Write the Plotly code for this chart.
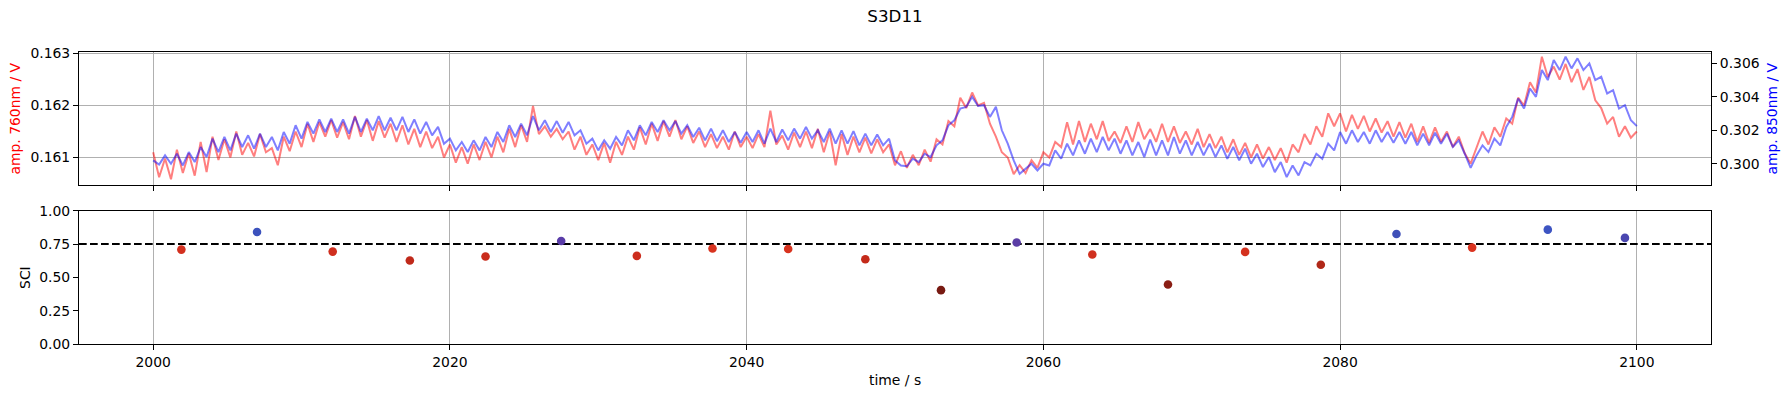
import numpy as np
import plotly.graph_objects as go

# ---------------- data ----------------
time_step = 0.4
time = np.round(np.arange(2000.0, 2100.0 + 1e-9, time_step), 1)

amp_760 = [
    0.16110, 0.16062, 0.16098, 0.16058, 0.16115, 0.16070, 0.16108, 0.16065, 0.16130, 0.16072,
    0.16140, 0.16095, 0.16135, 0.16100, 0.16150, 0.16105, 0.16128, 0.16102, 0.16145, 0.16110,
    0.16118, 0.16085, 0.16140, 0.16112, 0.16150, 0.16120, 0.16165, 0.16130, 0.16168, 0.16140,
    0.16172, 0.16138, 0.16168, 0.16135, 0.16180, 0.16140, 0.16172, 0.16132, 0.16170, 0.16138,
    0.16165, 0.16130, 0.16162, 0.16125, 0.16155, 0.16120, 0.16150, 0.16118, 0.16140, 0.16100,
    0.16125, 0.16090, 0.16120, 0.16088, 0.16125, 0.16095, 0.16130, 0.16100, 0.16140, 0.16110,
    0.16155, 0.16120, 0.16162, 0.16130, 0.16199, 0.16145, 0.16160, 0.16140, 0.16155, 0.16135,
    0.16150, 0.16115, 0.16140, 0.16105, 0.16125, 0.16095, 0.16128, 0.16090, 0.16130, 0.16105,
    0.16140, 0.16115, 0.16158, 0.16125, 0.16165, 0.16132, 0.16170, 0.16140, 0.16172, 0.16135,
    0.16160, 0.16128, 0.16150, 0.16120, 0.16145, 0.16118, 0.16140, 0.16115, 0.16150, 0.16120,
    0.16140, 0.16118, 0.16145, 0.16120, 0.16190, 0.16125, 0.16142, 0.16115, 0.16148, 0.16120,
    0.16150, 0.16118, 0.16155, 0.16110, 0.16150, 0.16085, 0.16145, 0.16105, 0.16140, 0.16110,
    0.16138, 0.16108, 0.16135, 0.16110, 0.16125, 0.16085, 0.16112, 0.16080, 0.16105, 0.16085,
    0.16115, 0.16092, 0.16135, 0.16125, 0.16170, 0.16160, 0.16215, 0.16195, 0.16225, 0.16200,
    0.16205, 0.16165, 0.16140, 0.16110, 0.16100, 0.16068, 0.16085, 0.16070, 0.16095, 0.16080,
    0.16110, 0.16100, 0.16130, 0.16120, 0.16168, 0.16125, 0.16170, 0.16130, 0.16165, 0.16135,
    0.16170, 0.16132, 0.16150, 0.16128, 0.16160, 0.16130, 0.16168, 0.16135, 0.16155, 0.16130,
    0.16165, 0.16130, 0.16160, 0.16128, 0.16150, 0.16125, 0.16155, 0.16120, 0.16145, 0.16118,
    0.16140, 0.16110, 0.16135, 0.16105, 0.16128, 0.16100, 0.16125, 0.16098, 0.16120, 0.16095,
    0.16118, 0.16090, 0.16125, 0.16110, 0.16145, 0.16125, 0.16160, 0.16140, 0.16185, 0.16160,
    0.16185, 0.16150, 0.16182, 0.16155, 0.16180, 0.16150, 0.16175, 0.16148, 0.16170, 0.16140,
    0.16168, 0.16138, 0.16165, 0.16130, 0.16160, 0.16128, 0.16158, 0.16130, 0.16150, 0.16120,
    0.16140, 0.16108, 0.16088, 0.16118, 0.16150, 0.16125, 0.16158, 0.16140, 0.16175, 0.16165,
    0.16215, 0.16200, 0.16245, 0.16225, 0.16294, 0.16255, 0.16275, 0.16250, 0.16280, 0.16245,
    0.16270, 0.16230, 0.16255, 0.16210, 0.16195, 0.16165, 0.16178, 0.16140, 0.16160, 0.16138,
    0.16150,
]

amp_850 = [
    0.30020, 0.29995, 0.30050, 0.30000, 0.30060, 0.29990, 0.30070, 0.30010, 0.30100, 0.30040,
    0.30150, 0.30070, 0.30160, 0.30080, 0.30180, 0.30100, 0.30170, 0.30090, 0.30180, 0.30100,
    0.30160, 0.30080, 0.30190, 0.30120, 0.30230, 0.30150, 0.30250, 0.30180, 0.30265, 0.30190,
    0.30270, 0.30190, 0.30265, 0.30180, 0.30280, 0.30190, 0.30270, 0.30200, 0.30285, 0.30200,
    0.30275, 0.30200, 0.30280, 0.30190, 0.30265, 0.30180, 0.30250, 0.30170, 0.30220, 0.30120,
    0.30150, 0.30080, 0.30130, 0.30070, 0.30140, 0.30080, 0.30160, 0.30100, 0.30190, 0.30130,
    0.30230, 0.30160, 0.30240, 0.30170, 0.30285, 0.30200, 0.30260, 0.30190, 0.30255, 0.30185,
    0.30250, 0.30170, 0.30200, 0.30120, 0.30150, 0.30080, 0.30140, 0.30090, 0.30160, 0.30110,
    0.30200, 0.30140, 0.30230, 0.30170, 0.30250, 0.30190, 0.30260, 0.30200, 0.30255, 0.30180,
    0.30230, 0.30160, 0.30215, 0.30140, 0.30210, 0.30135, 0.30200, 0.30130, 0.30190, 0.30125,
    0.30190, 0.30130, 0.30200, 0.30120, 0.30210, 0.30130, 0.30205, 0.30140, 0.30210, 0.30150,
    0.30220, 0.30150, 0.30200, 0.30130, 0.30210, 0.30120, 0.30200, 0.30120, 0.30195, 0.30110,
    0.30180, 0.30110, 0.30175, 0.30110, 0.30150, 0.30020, 0.29990, 0.29985, 0.30030, 0.30010,
    0.30060, 0.30040, 0.30110, 0.30140, 0.30230, 0.30260, 0.30330, 0.30340, 0.30400, 0.30345,
    0.30350, 0.30280, 0.30340, 0.30200, 0.30120, 0.30020, 0.29940, 0.29970, 0.30000, 0.29960,
    0.30000, 0.29990, 0.30080, 0.30030, 0.30120, 0.30050, 0.30140, 0.30060, 0.30150, 0.30070,
    0.30160, 0.30080, 0.30150, 0.30060, 0.30140, 0.30050, 0.30130, 0.30040, 0.30145, 0.30050,
    0.30140, 0.30050, 0.30160, 0.30060, 0.30140, 0.30050, 0.30130, 0.30050, 0.30120, 0.30040,
    0.30110, 0.30030, 0.30100, 0.30020, 0.30090, 0.30000, 0.30060, 0.29980, 0.30040, 0.29950,
    0.30010, 0.29920, 0.29990, 0.29930, 0.30010, 0.29990, 0.30060, 0.30030, 0.30120, 0.30080,
    0.30190, 0.30120, 0.30200, 0.30130, 0.30190, 0.30120, 0.30200, 0.30130, 0.30190, 0.30125,
    0.30190, 0.30120, 0.30190, 0.30110, 0.30180, 0.30110, 0.30185, 0.30120, 0.30180, 0.30100,
    0.30140, 0.30060, 0.29975, 0.30050, 0.30110, 0.30070, 0.30150, 0.30110, 0.30220, 0.30280,
    0.30390, 0.30330, 0.30450, 0.30400, 0.30560, 0.30500, 0.30620, 0.30560, 0.30640, 0.30570,
    0.30630, 0.30560, 0.30600, 0.30500, 0.30520, 0.30420, 0.30440, 0.30330, 0.30350, 0.30260,
    0.30225,
]

sci_time = [2001.9, 2007.0, 2012.1, 2017.3, 2022.4, 2027.5, 2032.6, 2037.7, 2042.8, 2048.0,
            2053.1, 2058.2, 2063.3, 2068.4, 2073.6, 2078.7, 2083.8, 2088.9, 2094.0, 2099.2]
sci_values = [0.708, 0.840, 0.693, 0.626, 0.656, 0.773, 0.661, 0.716, 0.713, 0.636,
              0.404, 0.761, 0.671, 0.446, 0.691, 0.594, 0.825, 0.723, 0.858, 0.796]
sci_colors = ["#d3301f", "#3c52bd", "#d02f1f", "#c0291a", "#c92c1c", "#5a3ca8", "#cc2d1d",
              "#d8331f", "#d8331f", "#c42a1a", "#781a12", "#5b3ea6", "#d0301f", "#8a1e14",
              "#d4321f", "#b02818", "#3f50b8", "#db3420", "#3d54c2", "#4a47b0"]
sci_threshold = 0.75

x_range = [1995, 2105]
x_ticks = [2000, 2020, 2040, 2060, 2080, 2100]
left_ticks = [0.161, 0.162, 0.163]
right_ticks = [0.300, 0.302, 0.304, 0.306]
sci_ticks = [0.0, 0.25, 0.5, 0.75, 1.0]

# ---------------- figure ----------------
FONT = "DejaVu Sans"
TICK_SIZE = 13.9
W, H = 1790, 397
ML, MR, MT, MB = 79, 79, 52, 53
plot_h = H - MT - MB
plot_w = W - ML - MR

def py(y_px):  # pixel (from top) -> paper y
    return (H - MB - y_px) / plot_h

def px(x_px):
    return (x_px - ML) / plot_w

fig = go.Figure()

fig.add_trace(go.Scatter(x=time, y=amp_760, mode="lines",
                         line=dict(color="rgba(255,0,0,0.5)", width=2),
                         xaxis="x", yaxis="y", showlegend=False))
fig.add_trace(go.Scatter(x=time, y=amp_850, mode="lines",
                         line=dict(color="rgba(0,0,255,0.5)", width=2),
                         xaxis="x", yaxis="y3", showlegend=False))
fig.add_trace(go.Scatter(x=sci_time, y=sci_values, mode="markers",
                         marker=dict(color=sci_colors, size=8.6, line=dict(width=0)),
                         xaxis="x2", yaxis="y2", showlegend=False))

fig.add_shape(type="line", xref="x2", x0=x_range[0], x1=x_range[1], yref="y2",
              y0=sci_threshold, y1=sci_threshold, layer="between",
              line=dict(color="black", width=2, dash="7.7px,3.3px"))

axis_common = dict(showline=True, linecolor="black", linewidth=1.1, mirror=True,
                   ticks="outside", ticklen=5, tickwidth=1.1, tickcolor="black",
                   gridcolor="#b0b0b0", gridwidth=1.1, zeroline=False,
                   tickfont=dict(family=FONT, size=TICK_SIZE, color="black"))

top_dom = [py(185), 1.0]
bot_dom = [0.0, py(210.7)]

fig.update_layout(
    width=W, height=H,
    margin=dict(l=ML, r=MR, t=MT, b=MB),
    paper_bgcolor="white", plot_bgcolor="white",
    font=dict(family=FONT, color="black"),
    title=dict(text="S3D11", x=0.5, xanchor="center", xref="paper",
               y=1 - 16 / H, yref="container", yanchor="middle",
               font=dict(family=FONT, size=16.7, color="black")),
    xaxis=dict(axis_common, range=x_range, tickvals=x_ticks, showticklabels=False,
               showgrid=True, anchor="y", domain=[0, 1]),
    yaxis=dict(axis_common, range=[0.16047, 0.16303], tickvals=left_ticks,
               tickformat=".3f", showgrid=True, domain=top_dom, anchor="x"),
    yaxis3=dict(axis_common, range=[0.29873, 0.30668], tickvals=right_ticks,
                tickformat=".3f", showgrid=False, overlaying="y", side="right",
                anchor="x", mirror=False),
    xaxis2=dict(axis_common, range=x_range, tickvals=x_ticks, tickformat="d",
                showgrid=True, anchor="y2", matches="x", domain=[0, 1]),
    yaxis2=dict(axis_common, range=[0, 1], tickvals=sci_ticks, tickformat=".2f",
                showgrid=False, domain=bot_dom, anchor="x2"),
)

label_font = dict(family=FONT, size=TICK_SIZE)
fig.add_annotation(text="amp. 760nm / V", xref="paper", yref="paper",
                   x=px(15), y=py(118.5), textangle=-90, showarrow=False,
                   font=dict(label_font, color="red"), xanchor="center", yanchor="middle")
fig.add_annotation(text="amp. 850nm / V", xref="paper", yref="paper",
                   x=px(1772), y=py(118.5), textangle=-90, showarrow=False,
                   font=dict(label_font, color="blue"), xanchor="center", yanchor="middle")
fig.add_annotation(text="SCI", xref="paper", yref="paper",
                   x=px(25.5), y=py(277.4), textangle=-90, showarrow=False,
                   font=dict(label_font, color="black"), xanchor="center", yanchor="middle")
fig.add_annotation(text="time / s", xref="paper", yref="paper",
                   x=px(895), y=py(380), showarrow=False,
                   font=dict(label_font, color="black"), xanchor="center", yanchor="middle")

fig.write_html("out.html", config={"displayModeBar": False},
               post_script="document.body.style.margin='0px';document.body.style.overflow='hidden';")
